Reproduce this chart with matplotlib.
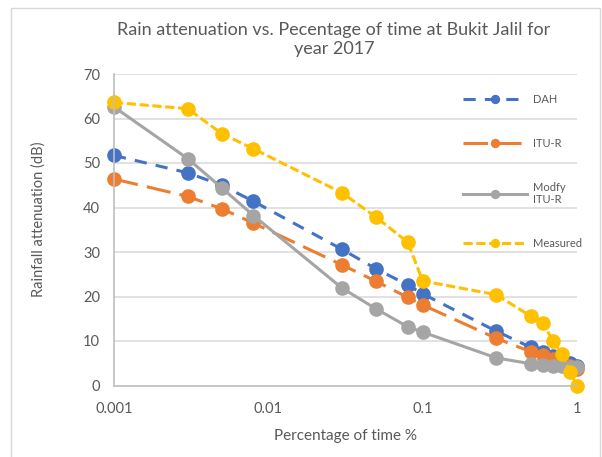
import matplotlib
matplotlib.use("Agg")
import matplotlib.pyplot as plt
from matplotlib.patches import Rectangle
from matplotlib.ticker import FixedLocator, FixedFormatter, NullLocator

# percentage of time (x) and attenuation values (dB) for each model
pct = [0.001, 0.003, 0.005, 0.008, 0.03, 0.05, 0.08, 0.1, 0.3, 0.5, 0.6, 0.7, 0.8, 0.9, 1]
dah = [51.7, 47.8, 45.0, 41.4, 30.6, 26.2, 22.6, 20.6, 12.2, 8.6, 7.6, 6.6, 5.8, 5.0, 4.3]
itu_r = [46.4, 42.5, 39.7, 36.5, 27.1, 23.4, 19.8, 18.1, 10.6, 7.6, 6.8, 6.0, 5.2, 4.4, 3.6]
modfy_itu_r = [62.6, 51.0, 44.4, 38.2, 21.9, 17.2, 13.2, 12.0, 6.2, 4.9, 4.6, 4.4, 4.3, 4.2, 4.2]
measured = [63.6, 62.2, 56.6, 53.2, 43.3, 37.8, 32.2, 23.5, 20.4, 15.6, 14.1, 10.0, 7.1, 3.1, 0.0]

x_ticks = [0.001, 0.01, 0.1, 1]
x_tick_labels = ["0.001", "0.01", "0.1", "1"]
y_ticks = [0, 10, 20, 30, 40, 50, 60, 70]

text_col = "#595959"
plt.rcParams["font.family"] = ["Lato", "DejaVu Sans"]

fig = plt.figure(figsize=(6.02, 4.57), dpi=100)
ax = fig.add_axes([114 / 602, 1 - 385.5 / 457, 463 / 602, 311.5 / 457])

# chart border
fig.patches.append(Rectangle((11 / 602, -0.05), 589 / 602, 1.05 - 8 / 457,
                             transform=fig.transFigure, fill=False,
                             edgecolor="#D9D9D9", lw=1.0))

series = [
    (dah, "DAH", "#4472C4", (4, 3)),
    (itu_r, "ITU-R", "#ED7D31", (8, 3)),
    (modfy_itu_r, "Modfy\nITU-R", "#A5A5A5", None),
    (measured, "Measured", "#FFC000", (3, 1.2)),
]
for vals, name, col, dash in series:
    line, = ax.plot(pct, vals, color=col, lw=2.2, marker="o", markersize=9.5,
                    label=name, clip_on=False)
    if dash is not None:
        line.set_dashes(dash)

ax.set_xscale("log")
ax.set_xlim(0.001, 1)
ax.set_ylim(0, 70)
ax.xaxis.set_major_locator(FixedLocator(x_ticks))
ax.xaxis.set_major_formatter(FixedFormatter(x_tick_labels))
ax.xaxis.set_minor_locator(NullLocator())
ax.set_yticks(y_ticks)

ax.grid(axis="y", color="#D9D9D9", lw=1.1)
ax.set_axisbelow(True)
for s in ["top", "right"]:
    ax.spines[s].set_visible(False)
for s in ["left", "bottom"]:
    ax.spines[s].set_color("#BFBFBF")
    ax.spines[s].set_linewidth(1.2)
ax.tick_params(axis="both", length=0, colors=text_col, labelsize=10.5)
ax.tick_params(axis="x", pad=12)
ax.tick_params(axis="y", pad=10)

ax.set_xlabel("Percentage of time %", color=text_col, fontsize=11, labelpad=9)
ax.set_ylabel("Rainfall attenuation (dB)", color=text_col, fontsize=10.5)
ax.yaxis.set_label_coords(-0.148, 0.534)

fig.text(334 / 602, 1 - 22 / 457,
         "Rain attenuation vs. Pecentage of time at Bukit Jalil for\nyear 2017",
         ha="center", va="top", ma="center", color=text_col, fontsize=13,
         linespacing=1.25)

leg = ax.legend(loc="upper left", bbox_to_anchor=(463 / 602, 1 - 94 / 457),
                bbox_transform=fig.transFigure, frameon=False, fontsize=8,
                handlelength=5.8, handletextpad=0.5, labelspacing=2.95,
                borderpad=0, borderaxespad=0, markerscale=0.6, numpoints=1)
for t in leg.get_texts():
    t.set_color(text_col)

fig.savefig("out.png", dpi=100)
